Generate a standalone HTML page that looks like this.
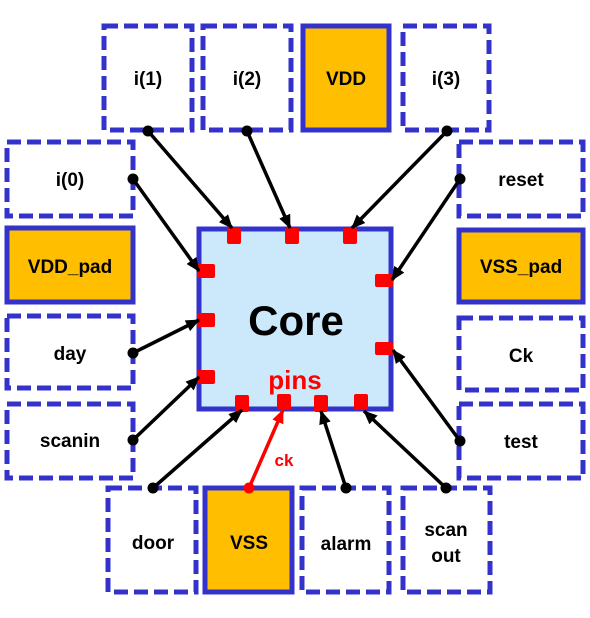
<!DOCTYPE html>
<html><head><style>
body{margin:0;background:#fff;}
svg text{font-family:"Liberation Sans",Arial,sans-serif;font-weight:bold;}
</style></head><body>
<svg width="590" height="613" viewBox="0 0 590 613" xmlns="http://www.w3.org/2000/svg">
<defs>
<marker id="a" markerWidth="14" markerHeight="12" refX="13" refY="6" orient="auto" markerUnits="userSpaceOnUse"><path d="M0,0 L14,6 L0,12 z" fill="#000"/></marker>
<marker id="r" markerWidth="14" markerHeight="12" refX="13" refY="6" orient="auto" markerUnits="userSpaceOnUse"><path d="M0,0 L14,6 L0,12 z" fill="#f00"/></marker>
</defs>
<g fill="none" stroke="#3333cc" stroke-width="5" stroke-dasharray="14,6">
<rect x="104" y="26" width="88" height="104"/>
<rect x="203" y="26" width="88" height="104"/>
<rect x="403" y="26" width="86" height="104"/>
<rect x="7" y="142" width="126" height="74"/>
<rect x="7" y="316" width="126" height="72"/>
<rect x="7" y="404" width="126" height="74"/>
<rect x="459" y="142" width="124" height="74"/>
<rect x="459" y="318" width="124" height="72"/>
<rect x="459" y="404" width="124" height="74"/>
<rect x="108" y="488" width="88" height="104"/>
<rect x="302" y="488" width="87" height="104"/>
<rect x="403" y="488" width="87" height="104"/>
</g>
<g fill="#ffbf00" stroke="#3333cc" stroke-width="5">
<rect x="303" y="26" width="86" height="104"/>
<rect x="7" y="228" width="126" height="74"/>
<rect x="459" y="230" width="124" height="72"/>
<rect x="205" y="488" width="87" height="104"/>
</g>
<rect x="199" y="229" width="192" height="180" fill="#cce9fb" stroke="#3333cc" stroke-width="5"/>
<g fill="#f00">
<rect x="227" y="228" width="14" height="16" rx="2"/>
<rect x="285" y="228" width="14" height="16" rx="2"/>
<rect x="343" y="228" width="14" height="16" rx="2"/>
<rect x="197" y="264" width="18" height="14" rx="2"/>
<rect x="197" y="313" width="18" height="14" rx="2"/>
<rect x="197" y="370" width="18" height="14" rx="2"/>
<rect x="375" y="274" width="18" height="13" rx="2"/>
<rect x="375" y="342" width="18" height="13" rx="2"/>
<rect x="235" y="395" width="14" height="17" rx="2"/>
<rect x="277" y="394" width="14" height="16" rx="2"/>
<rect x="314" y="395" width="14" height="17" rx="2"/>
<rect x="354" y="394" width="14" height="16" rx="2"/>
</g>
<g stroke="#000" stroke-width="3.5" marker-end="url(#a)">
<line x1="148" y1="131" x2="232" y2="228"/>
<line x1="247" y1="131" x2="290" y2="228"/>
<line x1="447" y1="131" x2="352" y2="228"/>
<line x1="133" y1="179" x2="199" y2="271"/>
<line x1="133" y1="353" x2="199" y2="320"/>
<line x1="133" y1="440" x2="199" y2="377"/>
<line x1="460" y1="179" x2="392" y2="280"/>
<line x1="460" y1="441" x2="393" y2="350"/>
<line x1="153" y1="488" x2="242" y2="410"/>
<line x1="346" y1="488" x2="321" y2="411"/>
<line x1="446" y1="488" x2="364" y2="411"/>
</g>
<line x1="249" y1="488" x2="283" y2="410" stroke="#f00" stroke-width="3.5" marker-end="url(#r)"/>
<g fill="#000">
<circle cx="148" cy="131" r="5.5"/><circle cx="247" cy="131" r="5.5"/><circle cx="447" cy="131" r="5.5"/>
<circle cx="133" cy="179" r="5.5"/><circle cx="133" cy="353" r="5.5"/><circle cx="133" cy="440" r="5.5"/>
<circle cx="460" cy="179" r="5.5"/><circle cx="460" cy="441" r="5.5"/>
<circle cx="153" cy="488" r="5.5"/><circle cx="346" cy="488" r="5.5"/><circle cx="446" cy="488" r="5.5"/>
</g>
<circle cx="249" cy="488" r="5.5" fill="#f00"/>
<g font-size="19" text-anchor="middle" fill="#000">
<text x="148" y="85">i(1)</text>
<text x="247" y="85">i(2)</text>
<text x="346" y="85">VDD</text>
<text x="446" y="85">i(3)</text>
<text x="70" y="186">i(0)</text>
<text x="70" y="273">VDD_pad</text>
<text x="70" y="360">day</text>
<text x="70" y="447">scanin</text>
<text x="521" y="186">reset</text>
<text x="521" y="273">VSS_pad</text>
<text x="521" y="362">Ck</text>
<text x="521" y="448">test</text>
<text x="153" y="549">door</text>
<text x="249" y="549">VSS</text>
<text x="346" y="550">alarm</text>
<text x="446" y="536">scan</text>
<text x="446" y="562">out</text>
</g>
<text x="296" y="335" font-size="42" text-anchor="middle" fill="#000">Core</text>
<text x="295" y="389" font-size="26" text-anchor="middle" fill="#f00">pins</text>
<text x="284" y="466" font-size="17" text-anchor="middle" fill="#f00">ck</text>
</svg>
</body></html>
